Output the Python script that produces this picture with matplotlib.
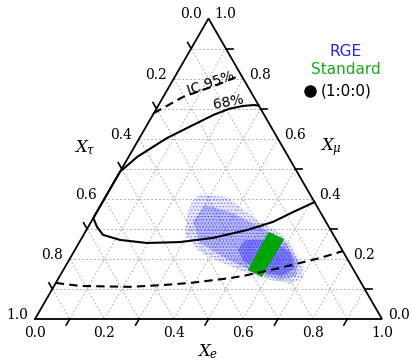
import matplotlib
matplotlib.use('Agg')
import matplotlib.pyplot as plt
import numpy as np

plt.rcParams['mathtext.fontset'] = 'dejavuserif'
plt.rcParams['hatch.linewidth'] = 0.6

# everything in ternary fractions (X_e, X_mu), X_tau = 1 - X_e - X_mu
# 68% contour (solid), runs along the left edge where it is clipped
c68_e  = [0.290, 0.275, 0.245, 0.211, 0.176, 0.141, 0.079, 0.0245, 0.0, 0.0, 0.026, 0.056, 0.114, 0.196, 0.29, 0.378, 0.463, 0.524, 0.566, 0.611]
c68_mu = [0.710, 0.712, 0.709, 0.700, 0.680, 0.652, 0.602, 0.539, 0.49, 0.336, 0.306, 0.280, 0.263, 0.253, 0.256, 0.270, 0.296, 0.323, 0.356, 0.389]

# 95% contour, upper and lower branches (dashed)
c95a_e  = [0.0, 0.057, 0.096, 0.135, 0.188]
c95a_mu = [0.685, 0.739, 0.759, 0.779, 0.812]
c95b_e  = [0.0, 0.075, 0.221, 0.312, 0.387, 0.494, 0.538, 0.621, 0.72, 0.774]
c95b_mu = [0.12, 0.11, 0.107, 0.113, 0.12, 0.136, 0.146, 0.17, 0.203, 0.226]

# RGE scatter, read as three density outlines (sparse -> dense)
rge_outer_e  = [0.269, 0.350, 0.475, 0.563, 0.626, 0.686, 0.702, 0.677, 0.612, 0.535, 0.438, 0.352, 0.289, 0.262, 0.257]
rge_outer_mu = [0.413, 0.406, 0.329, 0.286, 0.236, 0.173, 0.136, 0.117, 0.130, 0.153, 0.190, 0.230, 0.286, 0.353, 0.396]
rge_mid_e  = [0.300, 0.384, 0.503, 0.593, 0.663, 0.681, 0.641, 0.556, 0.446, 0.349, 0.294]
rge_mid_mu = [0.379, 0.356, 0.303, 0.256, 0.190, 0.143, 0.130, 0.156, 0.203, 0.253, 0.323]
rge_core_e  = [0.474, 0.546, 0.624, 0.664, 0.640, 0.576, 0.510, 0.470]
rge_core_mu = [0.263, 0.263, 0.223, 0.170, 0.143, 0.156, 0.190, 0.230]

# standard mixing region (green)
std_e  = [0.529, 0.585, 0.584, 0.532]
std_mu = [0.290, 0.266, 0.140, 0.163]

ticks = [0.0, 0.2, 0.4, 0.6, 0.8, 1.0]
minor = [0.1, 0.3, 0.5, 0.7, 0.9]

def tern(xe, xmu):
    xe = np.asarray(xe, dtype=float)
    xmu = np.asarray(xmu, dtype=float)
    return xe + xmu / 2, xmu * np.sqrt(3) / 2

s3 = np.sqrt(3) / 2
px = 1 / 347.0  # one pixel in data units

fig = plt.figure(figsize=(4.12, 3.63), dpi=100)
ax = fig.add_axes([0, 0, 1, 1])
ax.set_xlim(-35 * px, 377 * px)
ax.set_ylim(-44 * px, 319 * px)
ax.axis('off')

# grid
gk = dict(color='0.7', lw=0.7, ls=(0, (2, 2)), zorder=1)
for v in np.arange(1, 10) / 10:
    x, y = tern([0, 1 - v], [v, v]); ax.plot(x, y, **gk)       # const X_mu
    x, y = tern([v, v], [0, 1 - v]); ax.plot(x, y, **gk)       # const X_e
    x, y = tern([0, 1 - v], [1 - v, 0]); ax.plot(x, y, **gk)   # const X_tau

# RGE cloud: pale fill + stipple
for e, m, a, h in [(rge_outer_e, rge_outer_mu, 0.12, '.....'),
                   (rge_mid_e, rge_mid_mu, 0.22, '......'),
                   (rge_core_e, rge_core_mu, 0.4, '.......')]:
    x, y = tern(e, m)
    ax.fill(x, y, facecolor=(0.23, 0.23, 1, a), lw=0, zorder=2)
    ax.fill(x, y, facecolor='none', edgecolor=(0.2, 0.2, 1, 0.5), hatch=h, lw=0, zorder=2)

# standard
x, y = tern(std_e, std_mu)
ax.fill(x, y, color='#00a500', lw=0, zorder=3)

# contours
x, y = tern(c68_e, c68_mu); ax.plot(x, y, color='k', lw=1.5, zorder=4)
x, y = tern(c95a_e, c95a_mu); ax.plot(x, y, color='k', lw=1.5, ls=(0, (4, 2.5)), zorder=4)
x, y = tern(c95b_e, c95b_mu); ax.plot(x, y, color='k', lw=1.5, ls=(0, (4, 2.5)), zorder=4)

ax.text(176 * px, (319 - 83) * px, 'IC 95%', rotation=19, ha='center', va='center', fontsize=10, zorder=5)
ax.text(193 * px, (319 - 102) * px, '68%', rotation=11, ha='center', va='center', fontsize=10, zorder=5)

# triangle
ax.plot([0, 1, 0.5, 0], [0, 0, s3, 0], color='k', lw=1.3, zorder=6, solid_joinstyle='miter')

L = 0.02
for v in minor:
    x, y = tern(v, 0); ax.plot([x, x - L / 2], [y, y - L * s3], color='k', lw=1.2)
    x, y = tern(1 - v, v); ax.plot([x, x + L], [y, y], color='k', lw=1.2)
    x, y = tern(0, 1 - v); ax.plot([x, x - L / 2], [y, y + L * s3], color='k', lw=1.2)

tf = dict(family='DejaVu Serif', fontsize=10, ha='center', va='center')
for v in ticks:
    x, y = tern(v, 0); ax.text(x, y - 14 * px, '%.1f' % v, **tf)
    x, y = tern(1 - v, v); ax.text(x + 17 * px, y + 4 * px, '%.1f' % v, **tf)
    x, y = tern(0, 1 - v); ax.text(x - 18 * px, y + 4 * px, '%.1f' % v, **tf)

ax.text(50 * px, (319 - 148) * px, r'$X_\tau$', fontsize=12, ha='center', va='center')
ax.text(296 * px, (319 - 147) * px, r'$X_\mu$', fontsize=12, ha='center', va='center')
ax.text(173 * px, (319 - 352) * px, r'$X_e$', fontsize=12, ha='center', va='center')

# legend text
ax.text(311 * px, (319 - 52) * px, 'RGE', color='#2323ff', fontsize=11, ha='center', va='center')
ax.text(311 * px, (319 - 70) * px, 'Standard', color='#1aa81a', fontsize=11, ha='center', va='center')
ax.plot([275 * px], [(319 - 91) * px], 'o', color='k', ms=8)
ax.text(286 * px, (319 - 91) * px, '(1:0:0)', fontsize=11, ha='left', va='center')

fig.savefig('out.png', dpi=100)
